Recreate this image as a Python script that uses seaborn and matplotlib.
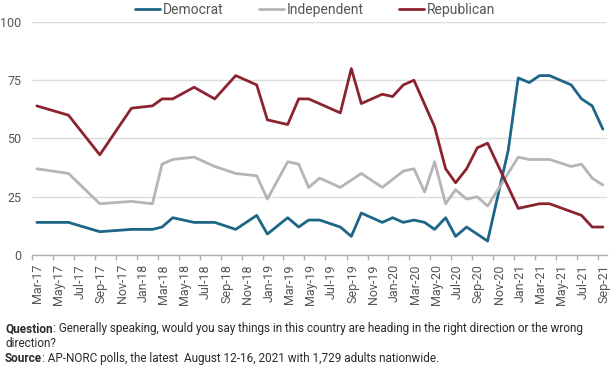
import numpy as np
import pandas as pd
import matplotlib
matplotlib.use("Agg")
import matplotlib.pyplot as plt
import matplotlib.dates as mdates
import matplotlib.transforms as mtransforms
import seaborn as sns

# ---- data ----
poll_dates = ["2017-03-15", "2017-06-15", "2017-09-14", "2017-12-15", "2018-02-14",
              "2018-03-14", "2018-04-14", "2018-06-15", "2018-08-14", "2018-10-14",
              "2018-12-14", "2019-01-14", "2019-03-14", "2019-04-15", "2019-05-14",
              "2019-06-15", "2019-08-14", "2019-09-15", "2019-10-14", "2019-12-14",
              "2020-01-13", "2020-02-13", "2020-03-15", "2020-04-15", "2020-05-14",
              "2020-06-15", "2020-07-14", "2020-08-15", "2020-09-15", "2020-10-15",
              "2020-12-14", "2021-01-12", "2021-02-13", "2021-03-15", "2021-04-13",
              "2021-06-15", "2021-07-15", "2021-08-15", "2021-09-15"]
nan = np.nan
democrat = [14, 14, 10, 11, 11, 12, 16, 14, 14, 11,
            17, 9, 16, 12, 15, 15, 12, 8, 18, 14,
            16, 14, 15, 14, 11, 16, 8, 12, nan, 6,
            45, 76, 74, 77, 77, 73, 67, 64, 54]
independent = [37, 35, 22, 23, 22, 39, 41, 42, 38, 35,
               34, 24, 40, 39, 29, 33, 29, nan, 35, 29,
               nan, 36, 37, 27, 40, 22, 28, 24, 25, 21,
               nan, 42, 41, nan, 41, 38, 39, 33, 30]
republican = [64, 60, 43, 63, 64, 67, 67, 72, 67, 77,
              73, 58, 56, 67, 67, nan, 61, 80, 65, 69,
              68, 73, 75, nan, 55, 37, 31, 37, 46, 48,
              nan, 20, nan, 22, 22, nan, 17, 12, 12]
series_names = ["Democrat", "Independent", "Republican"]
series_colors = ["#1d6688", "#b5b5b5", "#8c2331"]
y_ticks = [0, 25, 50, 75, 100]

question_label = "Question"
question_text = ": Generally speaking, would you say things in this country are heading in the right direction or the wrong"
question_text2 = "direction?"
source_label = "Source"
source_text = ": AP-NORC polls, the latest  August 12-16, 2021 with 1,729 adults nationwide."

# ---- build long table ----
frames = []
for name, vals in zip(series_names, [democrat, independent, republican]):
    frames.append(pd.DataFrame({"date": pd.to_datetime(poll_dates),
                                "value": vals, "party": name}))
df = pd.concat(frames, ignore_index=True).dropna()

sns.set_theme(style="white")
plt.rcParams["font.family"] = ["Roboto", "DejaVu Sans"]

fig = plt.figure(figsize=(6.12, 3.74), dpi=100)
ax = fig.add_axes([32 / 612, 1 - 255 / 374, (607 - 32) / 612, (255 - 22) / 374])

sns.lineplot(data=df, x="date", y="value", hue="party", hue_order=series_names,
             palette=series_colors, linewidth=2.0, ax=ax, legend=True)

ax.set_xlim(pd.Timestamp("2017-03-01"), pd.Timestamp("2021-09-27"))
ax.set_ylim(0, 100)
ax.set_yticks(y_ticks)
ax.set_xlabel("")
ax.set_ylabel("")

ax.xaxis.set_major_locator(mdates.MonthLocator(bymonth=[1, 3, 5, 7, 9, 11]))
ax.xaxis.set_major_formatter(mdates.DateFormatter("%b-%y"))

ax.grid(axis="y", color="#dcdcdc", linewidth=1)
ax.grid(axis="x", visible=False)
for s in ["left", "top", "right"]:
    ax.spines[s].set_visible(False)
ax.spines["bottom"].set_color("#b0b0b0")
ax.spines["bottom"].set_linewidth(1)

ax.tick_params(axis="x", which="major", direction="out", length=3.5, width=1,
               color="#b0b0b0", labelsize=9, labelcolor="#555555", pad=3,
               labelrotation=90, bottom=True)
ax.tick_params(axis="y", length=0, labelsize=9, labelcolor="#555555", pad=7.5)

offset = mtransforms.ScaledTranslation(6 / 100, 0, fig.dpi_scale_trans)
for lab in ax.get_xticklabels():
    lab.set_transform(lab.get_transform() + offset)

handles, labels = ax.get_legend_handles_labels()
ax.legend_.remove()
fig.legend(handles, labels, loc="upper center", bbox_to_anchor=(0.515, 1.025),
           ncol=3, frameon=False, fontsize=10, handlelength=1.8, handletextpad=0.15,
           columnspacing=2.6, labelcolor="#555555")

# ---- footnote ----
txt_color = "#2b2b2b"
fs = 8.5
t1 = fig.text(5 / 612, 1 - 332 / 374, question_label, fontsize=fs, fontweight="bold",
              color=txt_color, va="baseline", ha="left")
ax.annotate(question_text, xy=(1, 0), xycoords=t1, fontsize=fs, color=txt_color,
            va="bottom", ha="left", annotation_clip=False)
fig.text(5 / 612, 1 - 347 / 374, question_text2, fontsize=fs, color=txt_color,
         va="baseline", ha="left")
t2 = fig.text(5 / 612, 1 - 362 / 374, source_label, fontsize=fs, fontweight="bold",
              color=txt_color, va="baseline", ha="left")
ax.annotate(source_text, xy=(1, 0), xycoords=t2, fontsize=fs, color=txt_color,
            va="bottom", ha="left", annotation_clip=False)

fig.savefig("out.png", dpi=100)
